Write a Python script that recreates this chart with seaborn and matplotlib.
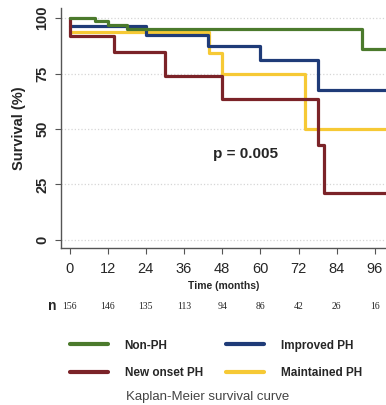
import pandas as pd
import seaborn as sns
import matplotlib.pyplot as plt

# Kaplan-Meier step curves (time in months, survival in %)
groups = ['Non-PH', 'New onset PH', 'Improved PH', 'Maintained PH']
colors = ['#4b7a2c', '#7b2328', '#1f3b78', '#f6c935']

non_ph_t = [0, 8, 12, 18, 92, 100]
non_ph_s = [100, 98.5, 97, 95, 86.2, 86.2]
new_onset_t = [0, 0, 14, 30, 48, 78, 80, 100]
new_onset_s = [100, 92, 84.5, 74, 63.5, 42.6, 21, 21]
improved_t = [0, 24, 43.5, 60, 78, 100]
improved_s = [96.4, 92.5, 87.4, 81, 67.6, 67.6]
maintained_t = [0, 44, 48, 74, 100]
maintained_s = [93.8, 84.1, 75, 50, 50]

tick_months = [0, 12, 24, 36, 48, 60, 72, 84, 96]
n_at_risk = [156, 146, 135, 113, 94, 86, 42, 26, 16]
p_text = 'p = 0.005'

sns.set_style('white')
plt.rcParams['font.family'] = ['Liberation Sans', 'DejaVu Sans']

rows = []
for g, t, s in [(groups[0], non_ph_t, non_ph_s), (groups[1], new_onset_t, new_onset_s),
                (groups[2], improved_t, improved_s), (groups[3], maintained_t, maintained_s)]:
    for ti, si in zip(t, s):
        rows.append({'group': g, 'time': ti, 'survival': si})
df = pd.DataFrame(rows)

fig = plt.figure(figsize=(3.86, 4.05), dpi=100)
ax = fig.add_axes([0.157, 0.388, 0.843, 0.592])

# draw in an order so green sits on top, as in the original
draw_order = ['Maintained PH', 'Improved PH', 'New onset PH', 'Non-PH']
pal = dict(zip(groups, colors))
for g in draw_order:
    sub = df[df['group'] == g]
    sns.lineplot(data=sub, x='time', y='survival', color=pal[g], sort=False,
                 estimator=None, drawstyle='steps-post', linewidth=2.3, ax=ax,
                 legend=False)

ax.set_xlim(-2.8, 99.5)
ax.set_ylim(-3.6, 104.5)
ax.set_yticks([0, 25, 50, 75, 100])
ax.set_xticks(tick_months)
for y in [0, 25, 50, 75, 100]:
    ax.axhline(y, color='#d6d6d6', linestyle=':', linewidth=0.9, zorder=0)

for side in ['top', 'right']:
    ax.spines[side].set_visible(False)
for side in ['left', 'bottom']:
    ax.spines[side].set_color('#555555')
    ax.spines[side].set_linewidth(1.0)

ax.tick_params(axis='y', direction='out', length=4, width=0.8, color='#555555',
               left=True, pad=4, labelsize=10.5)
ax.tick_params(axis='x', direction='out', length=4, width=0.8, color='#555555',
               bottom=True, pad=6, labelsize=10.5)
for lab in ax.get_yticklabels():
    lab.set_rotation(90)
    lab.set_va('center')
    lab.set_fontweight('bold')

ax.set_ylabel('Survival (%)', fontsize=10.5, fontweight='bold', labelpad=7)
ax.set_xlabel('Time (months)', fontsize=7.5, fontweight='bold', labelpad=4)

ax.text(45, 38.5, p_text, fontsize=11, fontweight='bold', va='center', ha='left')

# number at risk row
ax.text(-5.5, -30, 'n', fontsize=10, fontweight='bold', ha='center', va='center',
        clip_on=False)
for m, n in zip(tick_months, n_at_risk):
    ax.text(m, -30, str(n), fontsize=7, ha='center', va='center',
            family=['Liberation Serif', 'DejaVu Serif'], clip_on=False)

handles = [plt.Line2D([], [], color=pal[g], linewidth=3) for g in groups]
leg = fig.legend(handles, groups, ncol=2, loc='center', bbox_to_anchor=(0.56, 0.113),
                 frameon=False, handlelength=3.2, handletextpad=1.4,
                 columnspacing=2.0, labelspacing=1.3,
                 prop={'weight': 'bold', 'size': 8.5})

fig.text(0.537, 0.02, 'Kaplan-Meier survival curve', ha='center', va='center',
         fontsize=9.5, color='#444444')

fig.savefig('out.png', dpi=100)
